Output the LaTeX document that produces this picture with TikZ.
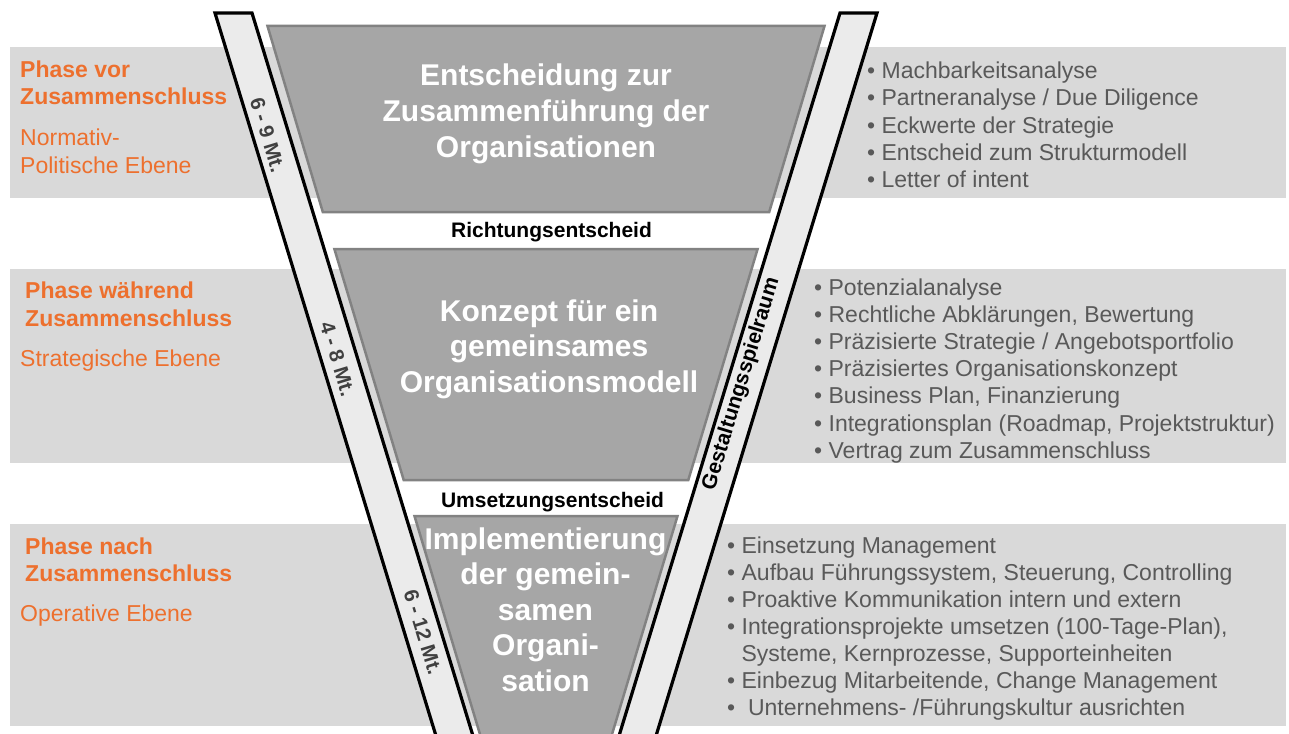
\documentclass[tikz,border=0pt]{standalone}
\usepackage{fontspec}
\setmainfont{Liberation Sans}
\definecolor{band}{HTML}{D9D9D9}
\definecolor{stripfill}{HTML}{EBEBEB}
\definecolor{trapfill}{HTML}{A6A6A6}
\definecolor{trapline}{HTML}{828282}
\definecolor{orng}{RGB}{237,112,46}
\definecolor{itemtext}{HTML}{595959}
\definecolor{striptext}{HTML}{404040}
\begin{document}
\begin{tikzpicture}[x=1pt,y=-1pt,
 stripbox/.style={fill=stripfill,draw=black,line width=3.2pt,line join=miter},
 trapbox/.style={fill=trapfill,draw=trapline,line width=2.5pt,line join=miter},
 title/.style={text=white,font=\fontsize{30}{36}\selectfont\bfseries,anchor=base,inner sep=0pt},
 item/.style={text=itemtext,font=\fontsize{23}{27}\selectfont,anchor=base west,inner sep=0pt},
 phase/.style={text=orng,font=\fontsize{23}{27}\selectfont\bfseries,anchor=base west,inner sep=0pt},
 level/.style={text=orng,font=\fontsize{23}{27}\selectfont,anchor=base west,inner sep=0pt},
 decision/.style={font=\fontsize{21}{24}\selectfont\bfseries,anchor=base,inner sep=0pt},
 duration/.style={text=striptext,font=\fontsize{20.5}{24}\selectfont\bfseries,rotate=-73,inner sep=0pt},
 scope label/.style={text=black,font=\fontsize{21}{24}\selectfont\bfseries,rotate=73,inner sep=0pt}
]
\useasboundingbox (0,0) rectangle (1289,733);
\fill[white] (0,0) rectangle (1289,733);
\clip (0,0) rectangle (1289,733);
% bands
\fill[band] (10,47) rectangle (1286,198);
\fill[band] (10,269) rectangle (1286,463);
\fill[band] (10,524) rectangle (1286,726);
% strips
\draw[stripbox] (215,13) -- (252,13) -- (477,749) -- (440,749) -- cycle;
\draw[stripbox] (840,13) -- (877,13) -- (652,749) -- (615,749) -- cycle;
% funnel segments
\draw[trapbox] (267.5,26) -- (824.5,26) -- (769.2,212) -- (322.8,212) -- cycle;
\draw[trapbox] (334.4,249) -- (757.6,249) -- (688.3,480) -- (403.7,480) -- cycle;
\draw[trapbox] (414.5,516) -- (677.5,516) -- (607.3,750) -- (484.7,750) -- cycle;
% titles
\node[title] (t1a) at (546,86) {Entscheidung zur};
\node[title] (t1b) at (546,121.5) {Zusammenführung der};
\node[title] (t1c) at (546,157) {Organisationen};
\node[title] (t2a) at (549,321) {Konzept für ein};
\node[title] (t2b) at (549,356.5) {gemeinsames};
\node[title] (t2c) at (549,392) {Organisationsmodell};
\node[title] (t3a) at (545.5,549) {Implementierung};
\node[title] (t3b) at (545.5,584.5) {der gemein-};
\node[title] (t3c) at (545.5,620) {samen};
\node[title] (t3d) at (545.5,655.5) {Organi-};
\node[title] (t3e) at (545.5,691) {sation};
% decisions
\node[decision] (d1) at (551.5,237.3) {Richtungsentscheid};
\node[decision] (d2) at (552.5,507.3) {Umsetzungsentscheid};
% durations
\node[duration] (m1) at (267.5,135) {6 - 9 Mt.};
\node[duration] (m2) at (337.5,359) {4 - 8 Mt.};
\node[duration] (m3) at (423,632) {6 - 12 Mt.};
\node[scope label] (g) at (741.5,384) {Gestaltungsspielraum};
% left labels
\node[phase] (p1a) at (20,77.3) {Phase vor};
\node[phase] (p1b) at (20,105) {Zusammenschluss};
\node[level] (l1a) at (20,146) {Normativ-};
\node[level] (l1b) at (20,173) {Politische Ebene};
\node[phase] (p2a) at (25,298.5) {Phase während};
\node[phase] (p2b) at (25,326.5) {Zusammenschluss};
\node[level] (l2a) at (20,366) {Strategische Ebene};
\node[phase] (p3a) at (25,554) {Phase nach};
\node[phase] (p3b) at (25,581.7) {Zusammenschluss};
\node[level] (l3a) at (20,621.7) {Operative Ebene};
% item lists
\foreach \txt [count=\i] in {{Machbarkeitsanalyse},{Partneranalyse / Due Diligence},{Eckwerte der Strategie},{Entscheid zum Strukturmodell},{Letter of intent}}
  \node[item] (a\i) at (867,{78.7+27.25*(\i-1)}) {• \txt};
\foreach \txt [count=\i] in {{Potenzialanalyse},{Rechtliche Abklärungen, Bewertung},{Präzisierte Strategie / Angebotsportfolio},{Präzisiertes Organisationskonzept},{Business Plan, Finanzierung},{Integrationsplan (Roadmap, Projektstruktur)},{Vertrag zum Zusammenschluss}}
  \node[item] (b\i) at (814,{295.5+27.1*(\i-1)}) {• \txt};
\foreach \txt [count=\i] in {{• Einsetzung Management},{• Aufbau Führungssystem, Steuerung, Controlling},{• Proaktive Kommunikation intern und extern},{• Integrationsprojekte umsetzen (100-Tage-Plan),},{\phantom{• }Systeme, Kernprozesse, Supporteinheiten},{• Einbezug Mitarbeitende, Change Management},{•\ \ Unternehmens- /Führungskultur ausrichten}}
  \node[item] (c\i) at (727,{553+27*(\i-1)}) {\txt};
\end{tikzpicture}
\end{document}
